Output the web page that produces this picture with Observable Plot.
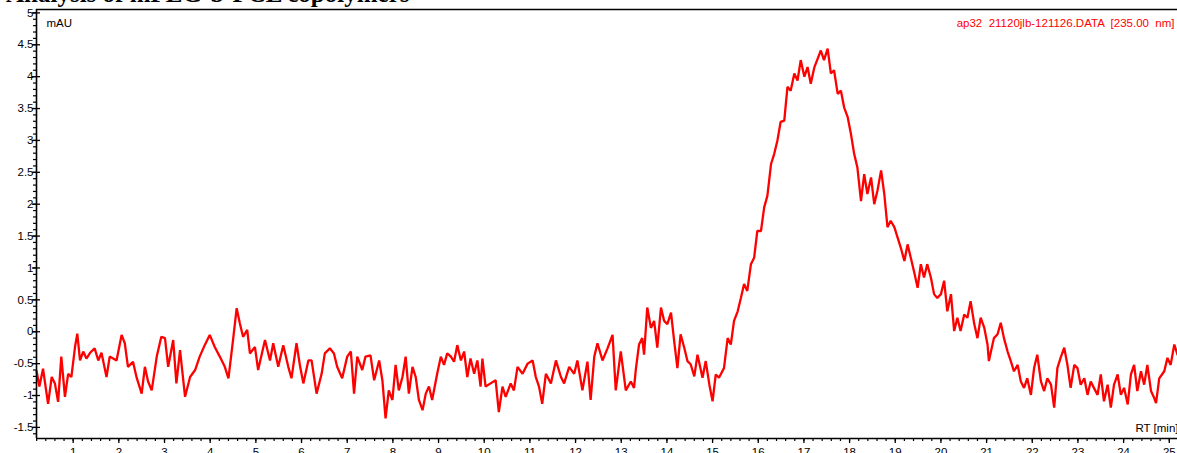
<!DOCTYPE html>
<html>
<head>
<meta charset="utf-8">
<script src="https://cdn.jsdelivr.net/npm/d3@7"></script>
<script src="https://cdn.jsdelivr.net/npm/@observablehq/plot@0.6"></script>
<style>
html, body { margin: 0; padding: 0; background: #fff; overflow: hidden; }
#wrap { position: relative; width: 1177px; height: 453px; overflow: hidden; }
#title { position: absolute; left: 6px; top: -20px; font: bold 25px "Liberation Serif", "Times New Roman", serif; white-space: pre; color: #000; z-index: 2; }
#wrap svg { position: absolute; left: 0; top: 0; }
</style>
</head>
<body>
<div id="wrap"><div id="title">Analysis of mPEG-b-PCL copolymers</div></div>
<script>
// Retention time (min)
const rt = [
0.20,0.26,0.34,0.45,0.53,0.60,0.67,0.74,0.82,0.89,0.96,1.04,1.09,1.15,1.22,1.29,1.37,1.47,1.55,1.62,
1.73,1.80,1.95,2.06,2.13,2.20,2.31,2.39,2.50,2.57,2.64,2.72,2.83,2.93,3.01,3.08,3.19,3.26,3.34,3.45,
3.56,3.67,3.77,3.88,3.99,4.10,4.21,4.32,4.40,4.50,4.58,4.65,4.72,4.81,4.87,4.98,5.05,5.20,5.31,5.38,
5.49,5.60,5.71,5.78,5.89,5.97,6.04,6.15,6.22,6.33,6.44,6.51,6.62,
6.71,6.78,6.89,7.00,7.08,7.15,7.22,7.33,7.40,7.51,7.59,7.70,7.77,7.84,7.91,7.99,8.06,8.13,8.21,8.28,
8.35,8.43,8.50,8.57,8.65,8.72,8.79,8.86,8.97,9.05,9.12,9.19,9.27,9.34,9.41,9.49,9.56,9.63,9.70,9.78,
9.85,9.92,9.96,10.03,10.14,10.25,10.32,10.40,10.47,10.58,10.65,10.73,10.84,10.95,11.06,11.13,11.20,11.27,11.35,11.46,
11.57,11.68,11.75,11.86,11.97,12.04,12.15,12.26,12.33,12.41,12.48,12.59,12.70,12.81,12.88,12.99,13.10,
13.21,13.28,13.32,13.39,13.46,13.50,13.57,13.65,13.72,13.79,13.87,13.94,14.01,14.09,14.16,14.23,14.30,14.38,14.45,14.52,
14.60,14.67,14.78,14.85,14.93,15.00,15.07,15.14,15.25,15.33,15.40,15.47,15.55,15.62,15.69,15.76,15.84,15.91,15.98,16.06,
16.13,16.20,16.28,16.35,16.42,16.49,16.57,16.64,16.71,16.79,16.86,16.93,17.01,17.08,17.15,17.23,17.30,17.37,17.44,17.52,
17.59,17.66,17.74,17.81,17.88,17.96,18.03,18.10,18.17,18.25,18.32,18.39,18.47,18.54,18.61,18.69,18.76,18.83,18.90,18.98,
19.05,19.12,19.20,19.27,19.34,
19.41,19.49,19.56,19.63,19.70,19.78,19.85,19.92,20.00,20.07,20.14,20.22,20.29,20.36,20.43,20.51,20.58,20.65,20.73,20.80,
20.87,20.95,21.02,21.05,21.16,21.24,21.31,21.38,21.46,21.53,21.60,21.68,21.75,21.82,21.89,21.97,22.04,22.11,22.19,22.26,
22.33,22.41,22.48,22.55,22.62,22.70,22.77,22.84,22.92,22.99,23.06,23.14,23.21,23.28,23.35,23.43,23.50,23.57,23.65,23.72,
23.79,23.87,23.94,24.01,24.09,24.16,24.23,24.30,24.38,24.45,24.52,24.60,24.67,24.71,24.78,24.89,24.96,25.03,25.11,25.18
];
// Absorbance (mAU)
const mAU = [
-0.62,-0.86,-0.58,-1.13,-0.71,-0.81,-1.10,-0.39,-1.02,-0.66,-0.71,-0.24,-0.03,-0.45,-0.31,-0.42,-0.33,-0.26,-0.45,-0.33,
-0.71,-0.39,-0.45,-0.05,-0.18,-0.55,-0.47,-0.72,-0.97,-0.55,-0.78,-0.92,-0.39,-0.08,-0.10,-0.55,-0.13,-0.81,-0.29,-1.02,
-0.71,-0.60,-0.39,-0.21,-0.05,-0.24,-0.39,-0.55,-0.73,-0.13,0.37,0.13,-0.08,0.03,-0.34,-0.24,-0.60,-0.13,-0.45,-0.18,
-0.55,-0.21,-0.55,-0.73,-0.18,-0.55,-0.81,-0.45,-0.45,-0.97,-0.66,-0.34,-0.26,
-0.34,-0.55,-0.73,-0.39,-0.31,-0.97,-0.39,-0.60,-0.39,-0.37,-0.76,-0.45,-0.76,-1.36,-0.92,-1.07,-0.52,-0.92,-0.71,-0.39,
-0.97,-0.55,-0.71,-1.07,-1.23,-0.97,-0.86,-1.07,-0.66,-0.39,-0.52,-0.34,-0.39,-0.47,-0.21,-0.45,-0.31,-0.71,-0.42,-0.66,
-0.45,-0.86,-0.42,-0.86,-0.81,-0.76,-1.26,-0.86,-1.02,-0.81,-0.92,-0.55,-0.66,-0.50,-0.45,-0.71,-0.86,-1.13,-0.66,-0.81,
-0.45,-0.71,-0.81,-0.55,-0.66,-0.45,-0.92,-0.47,-1.07,-0.39,-0.18,-0.45,-0.26,-0.05,-0.92,-0.31,-0.92,
-0.78,-0.88,-0.59,-0.20,-0.10,-0.36,0.38,0.06,0.17,-0.25,0.38,0.17,0.12,0.30,-0.15,-0.57,-0.04,-0.25,-0.46,-0.51,
-0.70,-0.36,-0.72,-0.46,-0.83,-1.09,-0.67,-0.72,-0.57,-0.10,-0.20,0.17,0.32,0.53,0.75,0.64,1.06,1.16,1.58,1.58,
1.95,2.13,2.63,2.79,3.00,3.29,3.31,3.84,3.78,4.05,3.94,4.26,4.00,4.15,3.89,4.15,4.28,4.41,4.26,4.44,
4.05,4.10,3.73,3.78,3.52,3.36,3.10,2.79,2.58,2.05,2.47,2.16,2.42,2.00,2.21,2.53,2.16,1.64,1.74,1.64,
1.48,1.32,1.11,1.37,1.16,
0.95,0.69,1.06,0.85,1.06,0.85,0.59,0.53,0.59,0.80,0.32,0.59,0.01,0.22,0.01,0.27,0.22,0.48,0.12,-0.10,
0.22,0.06,-0.20,-0.46,-0.10,-0.04,0.14,-0.10,-0.31,-0.46,-0.62,-0.52,-0.78,-0.88,-0.73,-0.99,-0.57,-0.36,-0.78,-0.93,
-0.73,-0.83,-1.19,-0.57,-0.41,-0.25,-0.52,-0.88,-0.52,-0.57,-0.83,-0.73,-0.99,-0.78,-0.88,-0.99,-0.67,-1.09,-0.83,-1.19,
-0.83,-0.67,-0.99,-0.88,-1.14,-0.67,-0.52,-0.93,-0.62,-0.83,-0.52,-0.93,-1.04,-1.12,-0.73,-0.62,-0.41,-0.52,-0.20,-0.36
];
const yMajor = [-1.5,-1,-0.5,0,0.5,1,1.5,2,2.5,3,3.5,4,4.5,5];
const xMajor = [1,2,3,4,5,6,7,8,9,10,11,12,13,14,15,16,17,18,19,20,21,22,23,24,25];
const xDomain = [0.197, 25.18];
const yDomain = [-1.674, 5.053];
const traceLabel = "ap32  21120jlb-121126.DATA  [235.00  nm]";
const yUnit = "mAU";
const xUnit = "RT [min]";

const data = rt.map((t, i) => ({rt: t, v: mAU[i]}));
const yMinor = d3.range(-16, 51).map(k => k / 10).filter(v => v >= yDomain[0] && v <= yDomain[1]);
const xMinor = d3.range(1, 127).map(k => k / 5).filter(v => v >= xDomain[0] && v <= xDomain[1]);

const font = "'Liberation Sans', Arial, sans-serif";
const chart = Plot.plot({
  width: 1177,
  height: 453,
  marginLeft: 36,
  marginRight: 0,
  marginTop: 9,
  marginBottom: 15,
  x: {domain: xDomain, label: null},
  y: {domain: yDomain, label: null},
  style: {fontFamily: font, fontSize: "11.5px", background: "transparent", color: "black"},
  marks: [
    Plot.line(data, {x: "rt", y: "v", stroke: "#ff0000", strokeWidth: 2.3, strokeLinejoin: "miter"}),
    Plot.ruleX([xDomain[0]], {stroke: "black", strokeWidth: 1.6}),
    Plot.ruleY([yDomain[0]], {stroke: "black", strokeWidth: 1.6}),
    Plot.ruleY([yDomain[1]], {stroke: "black", strokeWidth: 1.6}),
    Plot.axisY(yMinor, {tickSize: 3, text: null, label: null, strokeWidth: 1.2}),
    Plot.axisY(yMajor, {tickSize: 8, dx: 4, text: null, label: null, strokeWidth: 1.3}),
    Plot.axisY(yMajor, {tickSize: 0, tickPadding: 3, label: null, tickFormat: d => String(d), fontSize: 11.5}),
    Plot.axisX(xMinor, {tickSize: 3, text: null, label: null, strokeWidth: 1.2}),
    Plot.axisX(xMajor, {tickSize: 5, tickPadding: 4, label: null, tickFormat: d => String(d), strokeWidth: 1.3, fontSize: 11.5}),
    Plot.text([yUnit], {frameAnchor: "top-left", dx: 10, dy: 9, lineAnchor: "top", textAnchor: "start", fill: "black", fontSize: 11.5}),
    Plot.text([traceLabel], {frameAnchor: "top-right", dx: -3, dy: 9, lineAnchor: "top", textAnchor: "end", fill: "#ff0000", fontSize: 11.5}),
    Plot.text([xUnit], {frameAnchor: "bottom-right", dx: 1, dy: -14.5, lineAnchor: "top", textAnchor: "end", fill: "black", fontSize: 11.5})
  ]
});
document.getElementById("wrap").appendChild(chart);
</script>
</body>
</html>
